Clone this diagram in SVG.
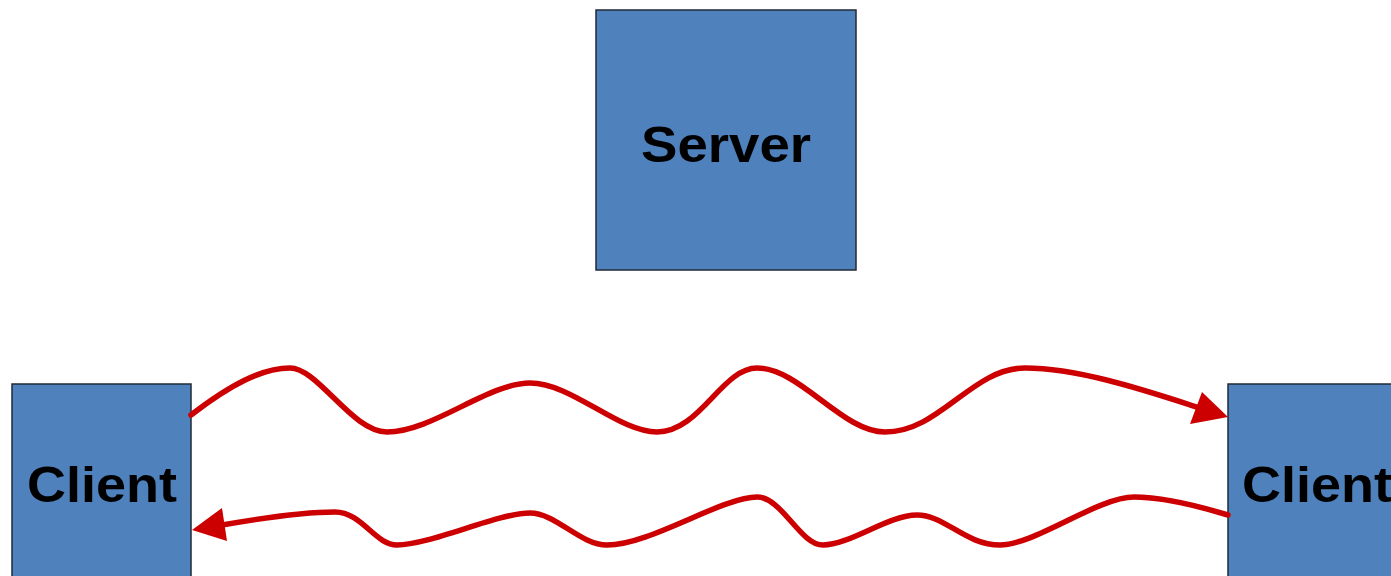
<svg xmlns="http://www.w3.org/2000/svg" width="1391" height="576" viewBox="0 0 1391 576">
<style>
.box{fill:#4f81bd;stroke:#1f2b38;stroke-width:1.5}
.lbl{font-family:"Liberation Sans",Arial,sans-serif;font-weight:bold;font-size:50px;fill:#000}
.wave{fill:none;stroke:#cc0000;stroke-width:5.5;stroke-linecap:round;stroke-linejoin:round}
.head{fill:#cc0000}
</style>
<rect width="1391" height="576" fill="#fff"/>
<g id="server">
<rect class="box" x="596" y="10" width="260" height="260"/>
<text class="lbl" x="726" y="162" text-anchor="middle" textLength="170" lengthAdjust="spacingAndGlyphs">Server</text>
</g>
<g id="client-left">
<rect class="box" x="12" y="384" width="179" height="200"/>
<text class="lbl" x="102" y="502" text-anchor="middle" textLength="150" lengthAdjust="spacingAndGlyphs">Client</text>
</g>
<g id="client-right">
<rect class="box" x="1228" y="384" width="179" height="200"/>
<text class="lbl" x="1242" y="502" textLength="150" lengthAdjust="spacingAndGlyphs">Client</text>
</g>
<g id="connectors">
<path class="wave" d="M191,415 C230,385 262,368 290,368 C318,368 352,432 387,432 C432,432 488,383 530,383 C572,383 618,432 657,432 C700,432 722,368 757,368 C800,368 842,432 885,432 C940,432 972,368 1025,368 C1080,368 1150,392 1200,408"/>
<polygon class="head" points="1228,417 1202,392 1190,424"/>
<path class="wave" d="M1228,515 C1195,505 1160,497 1134,497 C1098,497 1035,545 1000,545 C965,545 945,515 917,515 C888,515 850,545 823,545 C800,545 782,497 757,497 C722,497 650,545 607,545 C580,545 556,513 530,513 C498,513 430,545 397,545 C375,545 362,512 335,512 C300,512 262,518 222,525"/>
<polygon class="head" points="192,530 222,508 227,541"/>
</g>
</svg>
